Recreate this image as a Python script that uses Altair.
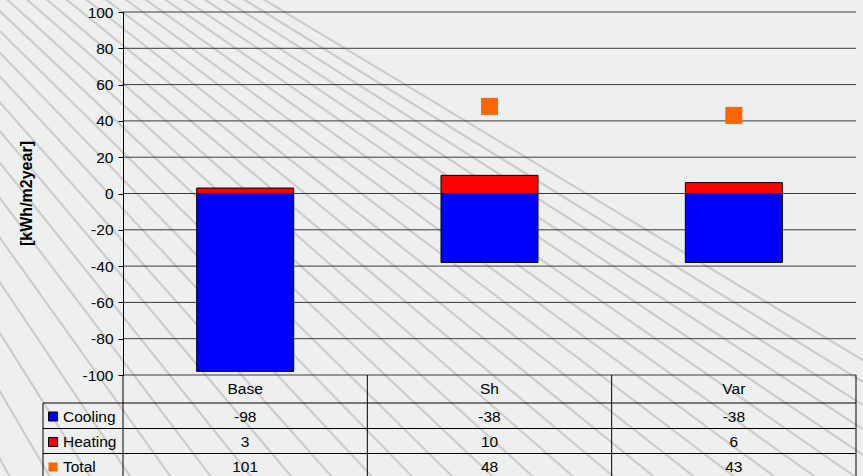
import altair as alt
import numpy as np
import pandas as pd

# ---- data -------------------------------------------------------------
categories = ["Base", "Sh", "Var"]
cooling = [-98, -38, -38]
heating = [3, 10, 6]
total = [101, 48, 43]

series_names = ["Cooling", "Heating", "Total"]
series_colors = ["#0000ff", "#ff0000", "#ff6600"]
y_ticks = [-100, -80, -60, -40, -20, 0, 20, 40, 60, 80, 100]

# ---- layout -----------------------------------------------------------
W, H = 733, 363
PAD = {"left": 123, "top": 12, "right": 7, "bottom": 101}
FONT = "Liberation Sans"
FS = 15.5
BG = "#eef0ef"

bars_df = pd.DataFrame({
    "category": categories * 2,
    "series": ["Cooling"] * len(categories) + ["Heating"] * len(categories),
    "value": cooling + heating,
})
totals_df = pd.DataFrame({"category": categories, "value": total})
# table cells as plain strings (hyphen-minus, as in the sheet)
table_df = pd.DataFrame({
    "category": categories,
    "Cooling": [str(v) for v in cooling],
    "Heating": [str(v) for v in heating],
    "Total": [str(v) for v in total],
})
ticks_df = pd.DataFrame({"tick": y_ticks})

x_enc = alt.X("category:N", sort=categories, axis=None,
              scale=alt.Scale(domain=categories, paddingInner=0, paddingOuter=0))
y_scale = alt.Scale(domain=[-100, 100], nice=False, zero=False)
y_axis = alt.Axis(values=y_ticks, title=None, grid=False, zindex=1,
                  domainColor="black", domainWidth=1,
                  tickColor="black", tickSize=5, tickWidth=1,
                  labelFont=FONT, labelFontSize=FS, labelColor="black",
                  labelPadding=5,
                  labelExpr="datum.value < 0 ? '-' + abs(datum.value) : '' + datum.value")

# horizontal gridlines (drawn over the slide background, under the bars)
grid = alt.Chart(ticks_df).mark_rule(color="#3a3a3a", strokeWidth=1).encode(
    y=alt.Y("tick:Q", scale=y_scale, axis=y_axis)
)

bars = alt.Chart(bars_df).mark_bar(size=97, stroke="black", strokeWidth=1).encode(
    x=x_enc,
    y=alt.Y("value:Q", stack="zero", scale=y_scale, axis=y_axis),
    color=alt.Color("series:N", legend=None,
                    scale=alt.Scale(domain=series_names[:2], range=series_colors[:2])),
)

totals = alt.Chart(totals_df).transform_filter(
    "datum.value <= 100 && datum.value >= -100"
).mark_square(size=289, color=series_colors[2], opacity=1).encode(
    x=x_enc,
    y=alt.Y("value:Q", scale=y_scale, axis=y_axis),
)

y_title = alt.Chart(ticks_df.head(1)).mark_text(
    text="[kWh/m2year]", font=FONT, fontSize=16, fontWeight="bold",
    angle=270, align="center", baseline="middle", color="black",
).encode(x=alt.value(-96), y=alt.value(H / 2))


# ---- data table under the plot ---------------------------------------
def rule(x1, x2, y1, y2):
    return alt.Chart(ticks_df.head(1)).mark_rule(color="black", strokeWidth=1).encode(
        x=alt.value(x1), x2=alt.value(x2), y=alt.value(y1), y2=alt.value(y2))


row_y = [H + 28, H + 53.5, H + 78.5]      # lines under header / cooling / heating
row_c = [H + 41.5, H + 67, H + 92]        # text centres of the three value rows
table_bottom = H + 110

table_rules = [rule(-80, W, y, y) for y in row_y]
table_rules += [rule(-80, -80, row_y[0], table_bottom)]
table_rules += [rule(x, x, H, table_bottom) for x in (0, W / 3, 2 * W / 3, W)]

header = alt.Chart(table_df).mark_text(
    font=FONT, fontSize=FS, color="black", baseline="middle"
).encode(x=x_enc, y=alt.value(H + 14), text="category:N")

row_texts = []
legend_marks = []
for name, color, yc in zip(series_names, series_colors, row_c):
    row_texts.append(
        alt.Chart(table_df).mark_text(
            font=FONT, fontSize=FS, color="black", baseline="middle"
        ).encode(x=x_enc, y=alt.value(yc), text=f"{name}:N")
    )
    stroke = {} if name == "Total" else {"stroke": "black", "strokeWidth": 1}
    legend_marks.append(
        alt.Chart(ticks_df.head(1)).mark_square(
            size=81, color=color, opacity=1, **stroke
        ).encode(x=alt.value(-70), y=alt.value(yc))
    )
    legend_marks.append(
        alt.Chart(ticks_df.head(1)).mark_text(
            text=name, font=FONT, fontSize=FS, color="black",
            align="left", baseline="middle"
        ).encode(x=alt.value(-60), y=alt.value(yc))
    )

main = alt.layer(grid, bars, totals, y_title, header,
                 *table_rules, *row_texts, *legend_marks)

# ---- slide background: a sweep of light diagonal strokes --------------
n_lines = 28
i = np.arange(n_lines)
mid_x = -150 + 30 * i          # crossing of each stroke with the slide's mid-height
slope = 0.5 + 0.043 * i        # horizontal run per unit of drop
y_a, y_b, y_mid = -20.0, 500.0, 238.0
hatch_df = pd.DataFrame({
    "x0": mid_x + slope * (y_a - y_mid) - PAD["left"],
    "y0": y_a - PAD["top"],
    "x1": mid_x + slope * (y_b - y_mid) - PAD["left"],
    "y1": y_b - PAD["top"],
})
hatch = alt.Chart(hatch_df).mark_rule(color="#cbcecc", strokeWidth=2.2).encode(
    x=alt.X("x0:Q", scale=None, axis=None),
    y=alt.Y("y0:Q", scale=None, axis=None),
    x2="x1:Q",
    y2="y1:Q",
)

chart = alt.layer(hatch, main).resolve_scale(
    x="independent", y="independent"
).properties(
    width=W, height=H, padding=PAD,
    autosize=alt.AutoSizeParams(type="none"),
    background=BG,
).configure_view(stroke=None)

chart.save("out.html", embed_options={"renderer": "svg", "actions": False})
